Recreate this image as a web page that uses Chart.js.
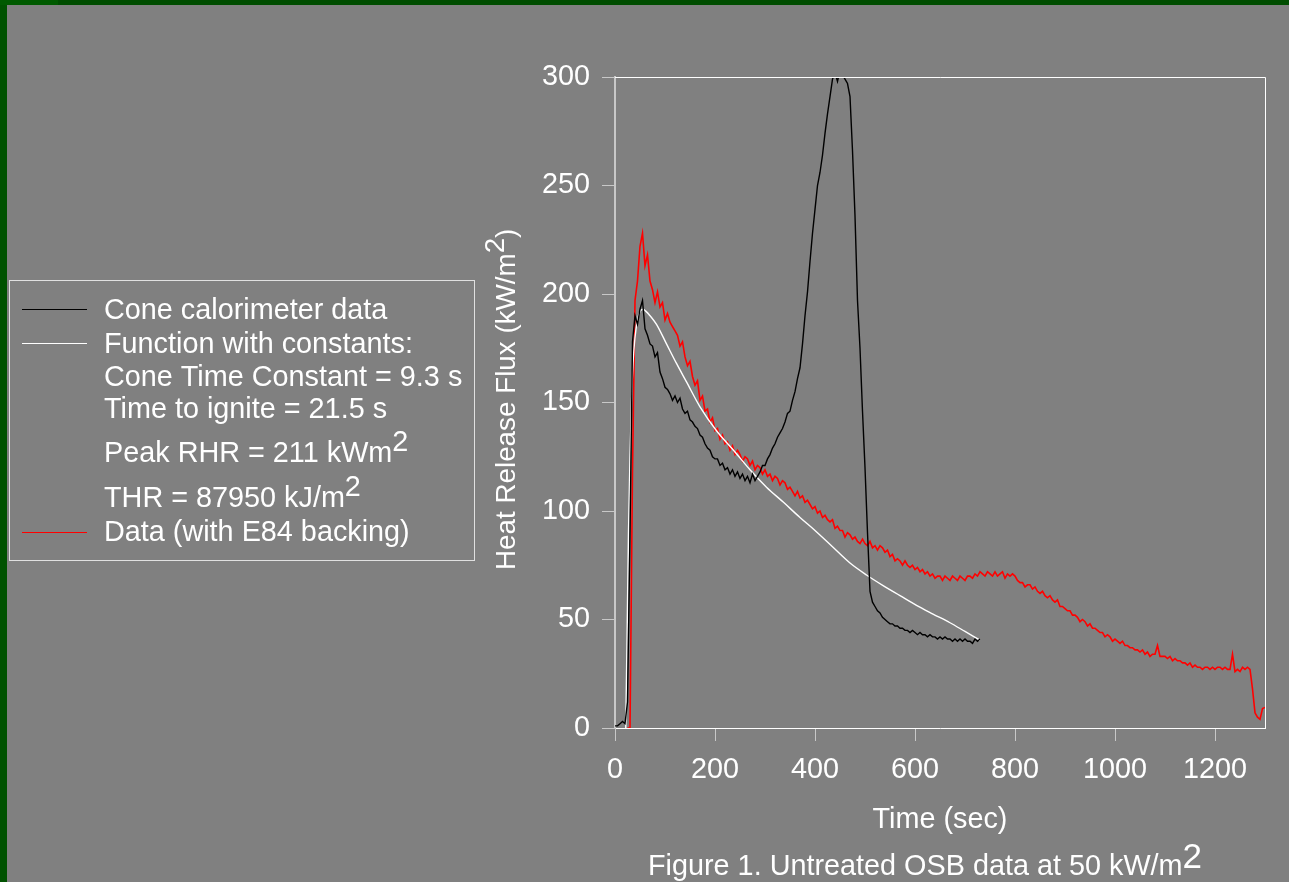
<!DOCTYPE html>
<html>
<head>
<meta charset="utf-8">
<script src="https://cdn.jsdelivr.net/npm/chart.js@4.4.0/dist/chart.umd.min.js"></script>
<style>
  html, body { margin: 0; padding: 0; background: #808080; overflow: hidden; }
  canvas { display: block; }
</style>
</head>
<body>
<canvas id="c" width="1289" height="882"></canvas>
<script>
// ---------------- DATA ----------------
// Cone calorimeter data: samples every 5 s starting at t = 0 s
const coneStartSec = 0;
const coneStepSec = 5;
const coneHRR = [
  1, 1, 2, 3, 2, 12, 90, 178, 190, 186, 193, 197,
  184, 181, 177, 176, 171, 173, 164, 161, 157, 156,
  154, 151, 153, 150, 152, 147, 145, 146, 142, 141,
  139, 138, 135, 134, 131, 129, 128, 125, 124, 124,
  121, 122, 119, 120, 117, 119, 116, 118, 115, 117,
  114, 116, 113, 117, 114, 116, 118, 121,
  121, 124, 126, 129, 131, 134, 136, 138, 141, 145,
  146, 151, 155, 161, 166, 177, 190, 201, 215, 228,
  239, 250, 256, 264, 274, 283, 291, 299, 302, 298,
  303, 301, 299, 297, 291, 266, 236, 197, 175, 146,
  120, 90, 63, 58, 56, 54, 53, 51, 50, 49,
  48, 48, 47, 47, 46, 46, 45, 45, 44, 45,
  44, 43, 44, 43, 43, 42, 43, 42, 42, 41,
  42, 41, 42, 41, 41, 40, 41, 40, 41, 40,
  41, 40, 40, 39, 41, 40, 41
];

// Data (with E84 backing): samples every 5 s starting at t = 25 s
const e84StartSec = 25;
const e84StepSec = 5;
const e84HRR = [
  0, 0, 118, 197, 206, 222, 228, 213, 218, 206,
  202, 196, 201, 194, 196, 188, 191, 187, 185, 183,
  181, 176, 178, 171, 167, 169, 162, 158, 160, 151,
  153, 146, 147, 141, 143, 137, 138, 133, 135, 131,
  132, 128, 130, 126, 128,
  126, 123, 125, 124, 121, 123, 119, 121, 120, 117,
  119, 116, 117, 114, 116, 115, 112, 114, 113, 110,
  111, 109, 107, 109, 106, 107, 104, 105, 103, 101,
  102, 99, 100, 97, 98, 96, 95, 96, 92, 93,
  91, 91, 88, 90, 89, 87, 88, 86, 85, 87,
  85, 84, 86, 83, 84, 82, 84, 83, 81, 82,
  79, 80, 77, 78, 77, 75, 77, 75, 74, 75,
  73, 74, 72, 73, 71, 72, 70, 71, 69, 70,
  70, 68, 70, 69, 68, 70, 69, 68, 70, 69,
  68, 70, 70, 69, 71, 70, 72, 71, 70, 72,
  71, 70, 72, 70, 71, 72, 69, 71, 70, 71,
  70, 68, 67, 67, 65, 66, 66, 64, 65, 63,
  62, 63, 61, 60, 61, 59, 58, 59, 56, 56,
  55, 54, 54, 52, 52, 51, 49, 50, 49, 47,
  48, 46, 46, 45, 44, 44, 42, 43, 42, 40,
  41, 40, 39, 40, 38, 38, 37, 37, 36, 36,
  35, 36, 34, 35, 33, 34, 34, 38, 33, 33,
  33, 32, 33, 31, 32, 31, 31, 30, 30, 29,
  30, 28, 29, 28, 28, 27, 28, 28, 27, 28,
  27, 28, 28, 27, 28, 27, 27, 34, 26, 27,
  26, 28, 27, 28, 27, 18, 7, 5, 4, 9, 9.5
];

// Function with constants (smooth model curve)
const fnTime = [21.5, 24, 27, 30, 33, 36, 40, 45, 50, 56, 62, 70, 83, 103, 123, 143, 170, 203, 237, 270, 303, 337, 370, 400, 435, 470, 503, 537, 570, 603, 636, 670, 700, 730];
const fnHRR  = [0, 40, 90, 125, 150, 168, 180, 188, 192, 193, 192, 190, 186, 177, 168, 159.5, 148, 137, 128, 119, 111, 104, 97, 91, 83.5, 76, 70.5, 65.5, 61, 56.5, 52.5, 48.5, 44.5, 40.5];

// Axes
const xMin = 0, xMax = 1300, xStep = 200;
const yMin = 0, yMax = 300, yStep = 50;

// Texts
const seriesNames = ['Cone calorimeter data', 'Function with constants:', 'Data (with E84 backing)'];
const legendExtra = [
  ['Cone Time Constant = 9.3 s', ''],
  ['Time to ignite = 21.5 s', ''],
  ['Peak RHR = 211 kWm', '2'],
  ['THR = 87950 kJ/m', '2']
];
const xTitle = 'Time (sec)';
const yTitle = ['Heat Release Flux (kW/m', '2', ')'];
const caption = ['Figure 1. Untreated OSB data at 50 kW/m', '2'];

// ---------------- BUILD ----------------
const FONT = '"Liberation Sans", Arial, sans-serif';
const FS = 28.8;

const conePts = coneHRR.map((v, i) => ({ x: coneStartSec + i * coneStepSec, y: v }));
const e84Pts = e84HRR.map((v, i) => ({ x: e84StartSec + i * e84StepSec, y: v }));
const fnPts = fnTime.map((t, i) => ({ x: t, y: fnHRR[i] }));

const decoPlugin = {
  id: 'deco',
  beforeDraw(chart) {
    const ctx = chart.ctx;
    ctx.save();
    ctx.fillStyle = '#004d00';
    ctx.fillRect(0, 0, chart.width, chart.height);
    ctx.fillStyle = '#005200';
    ctx.fillRect(0, 0, 7, chart.height);
    ctx.fillStyle = '#005a00';
    ctx.fillRect(0, 0, 58, 5);
    ctx.fillStyle = '#808080';
    ctx.fillRect(7, 5, chart.width - 7, chart.height - 5);
    ctx.restore();
  },
  afterDraw(chart) {
    const ctx = chart.ctx;
    const a = chart.chartArea;
    ctx.save();
    // frame top and right
    ctx.strokeStyle = '#ffffff';
    ctx.lineWidth = 1;
    ctx.beginPath();
    ctx.moveTo(a.left, Math.round(a.top) + 0.5);
    ctx.lineTo(Math.round(a.right) + 0.5, Math.round(a.top) + 0.5);
    ctx.lineTo(Math.round(a.right) + 0.5, Math.round(a.bottom) + 0.5);
    ctx.stroke();

    ctx.fillStyle = '#ffffff';
    ctx.font = FS + 'px ' + FONT;
    ctx.textBaseline = 'alphabetic';
    ctx.textAlign = 'left';

    // x title
    ctx.textAlign = 'center';
    ctx.fillText(xTitle, 940, 828);
    ctx.textAlign = 'left';

    // y title (rotated, with raised 2)
    ctx.save();
    ctx.font = '27.8px ' + FONT;
    ctx.translate(515, 570);
    ctx.rotate(-Math.PI / 2);
    const w0 = ctx.measureText(yTitle[0]).width;
    ctx.fillText(yTitle[0], 0, 0);
    ctx.fillText(yTitle[1], w0, -11);
    const w1 = ctx.measureText(yTitle[1]).width;
    ctx.fillText(yTitle[2], w0 + w1, 0);
    ctx.restore();

    // caption
    ctx.fillText(caption[0], 648, 875);
    const wc = ctx.measureText(caption[0]).width;
    ctx.font = '35px ' + FONT;
    ctx.fillText(caption[1], 648 + wc, 868);
    ctx.font = FS + 'px ' + FONT;

    // legend box
    ctx.strokeStyle = '#e0e0e0';
    ctx.lineWidth = 1;
    ctx.strokeRect(9.5, 280.5, 465, 280);

    const lx0 = 22, lx1 = 87, tx = 104;
    const sw = [
      { y: 309.5, c: '#000000' },
      { y: 343.5, c: '#ffffff' },
      { y: 532.5, c: '#ff0000' }
    ];
    sw.forEach(s => {
      ctx.strokeStyle = s.c;
      ctx.beginPath();
      ctx.moveTo(lx0, s.y);
      ctx.lineTo(lx1, s.y);
      ctx.stroke();
    });
    ctx.fillText(seriesNames[0], tx, 319);
    ctx.fillText(seriesNames[1], tx, 353);
    const extraY = [386, 418, 462, 507];
    legendExtra.forEach((e, i) => {
      ctx.fillText(e[0], tx, extraY[i]);
      if (e[1]) {
        const w = ctx.measureText(e[0]).width;
        ctx.fillText(e[1], tx + w, extraY[i] - 11.5);
      }
    });
    ctx.fillText(seriesNames[2], tx, 541);
    ctx.restore();
  }
};

new Chart(document.getElementById('c'), {
  type: 'line',
  data: {
    datasets: [
      { label: seriesNames[0], data: conePts, borderColor: '#000000', borderWidth: 1.4, pointRadius: 0, order: 1, tension: 0 },
      { label: seriesNames[1], data: fnPts, borderColor: '#ffffff', borderWidth: 1.4, pointRadius: 0, order: 2, cubicInterpolationMode: 'monotone' },
      { label: seriesNames[2], data: e84Pts, borderColor: '#ff0000', borderWidth: 1.6, pointRadius: 0, order: 3, tension: 0 }
    ]
  },
  options: {
    responsive: false,
    animation: false,
    devicePixelRatio: 1,
    layout: { padding: { left: 0, top: 77, right: 24, bottom: 0 } },
    plugins: { legend: { display: false }, tooltip: { enabled: false } },
    scales: {
      x: {
        type: 'linear',
        min: xMin, max: xMax,
        afterFit(s) { s.height = 154; },
        border: { color: '#ffffff', width: 1 },
        grid: { display: true, drawOnChartArea: false, drawTicks: true, tickLength: 13, color: '#c8c8c8', lineWidth: 1 },
        ticks: { stepSize: xStep, includeBounds: false, color: '#ffffff', font: { family: FONT, size: FS }, padding: 12, maxRotation: 0, callback: v => String(v) }
      },
      y: {
        type: 'linear',
        min: yMin, max: yMax,
        afterFit(s) { s.width = 615; },
        border: { color: '#c8c8c8', width: 2 },
        grid: { display: true, drawOnChartArea: false, drawTicks: true, tickLength: 13, color: '#c8c8c8', lineWidth: 1 },
        ticks: { stepSize: yStep, color: '#ffffff', font: { family: FONT, size: FS }, padding: 12, callback: v => String(v) }
      }
    }
  },
  plugins: [decoPlugin]
});
</script>
</body>
</html>
